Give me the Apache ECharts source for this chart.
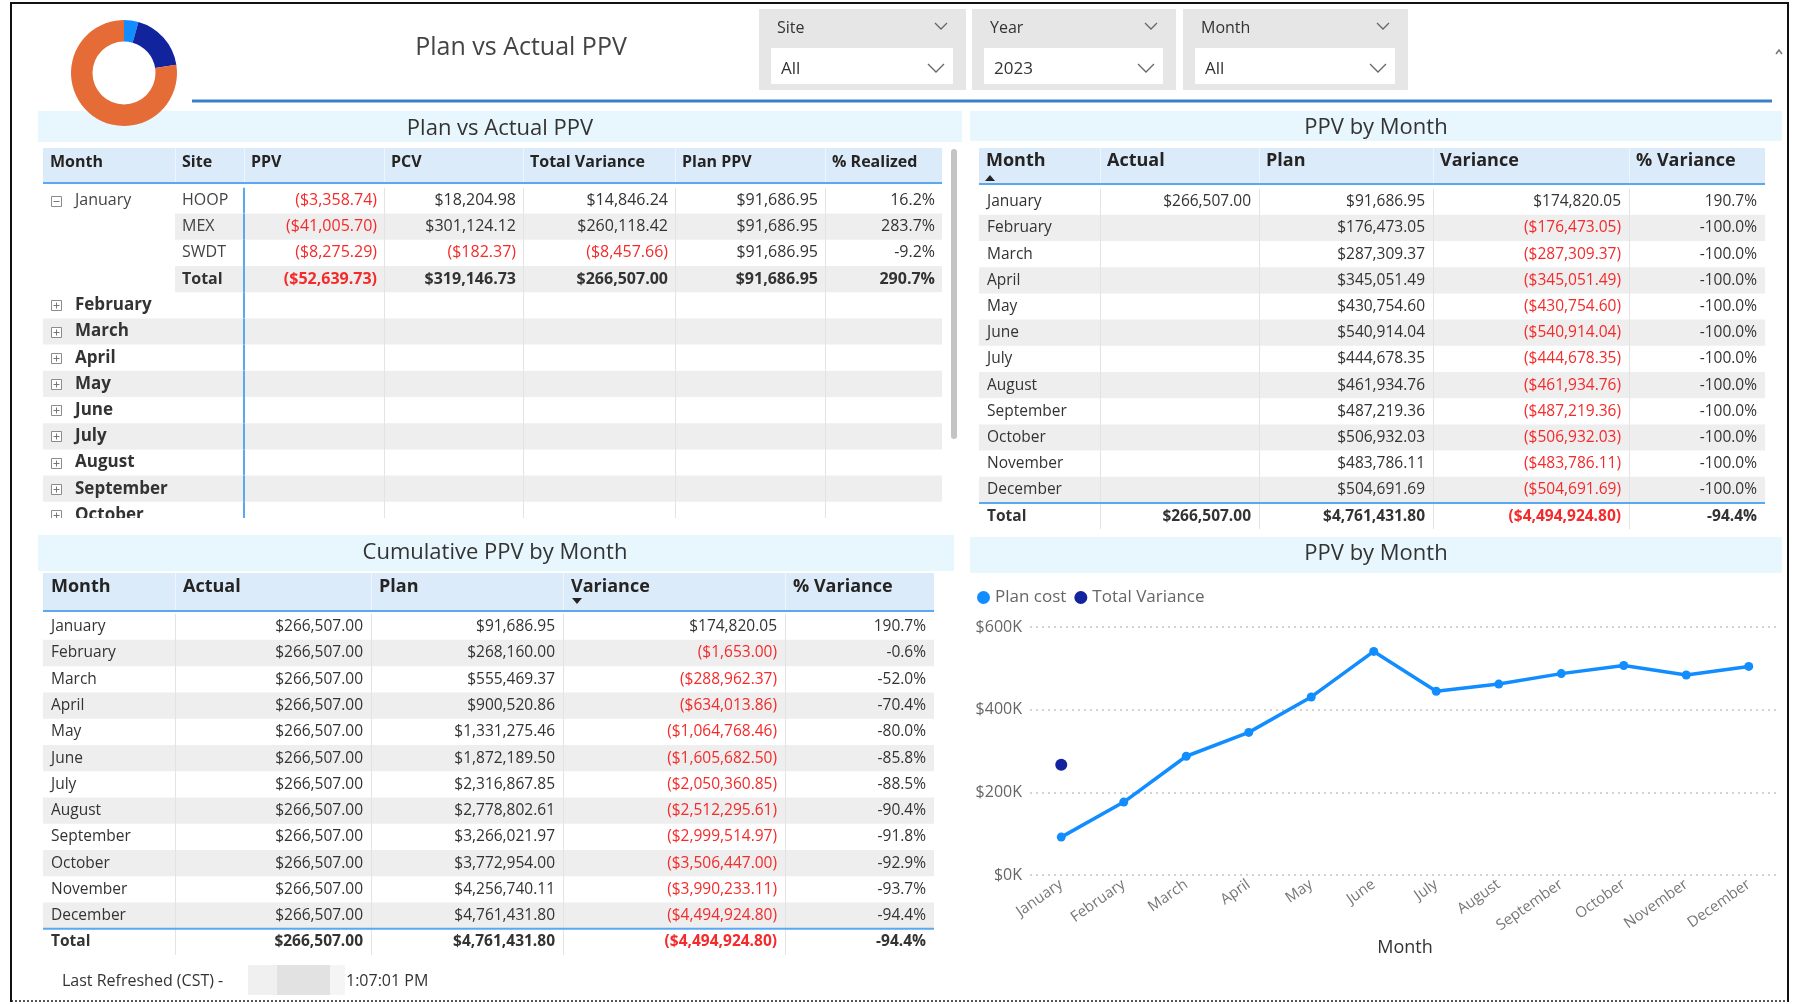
<!DOCTYPE html>
<html><head><meta charset="utf-8">
<script src="https://cdn.jsdelivr.net/npm/echarts@6/dist/echarts.min.js"></script>
<style>html,body{margin:0;padding:0;background:#fff}#main{width:1796px;height:1004px}</style>
</head><body><div id="main"></div>
<script>
// ================= DATA =================
const months = ['January','February','March','April','May','June','July','August','September','October','November','December'];

// Table 1: Plan vs Actual PPV (January expanded by site)
const t1Columns = ['Month','Site','PPV','PCV','Total Variance','Plan PPV','% Realized'];
const t1Sites = ['HOOP','MEX','SWDT'];
const t1PPV = [-3358.74,-41005.70,-8275.29];
const t1PCV = [18204.98,301124.12,-182.37];
const t1TotalVariance = [14846.24,260118.42,-8457.66];
const t1PlanPPV = [91686.95,91686.95,91686.95];
const t1Realized = [16.2,283.7,-9.2];
const t1JanTotals = [-52639.73,319146.73,266507.00,91686.95,290.7];

// Table 2: PPV by Month
const monthlyColumns = ['Month','Actual','Plan','Variance','% Variance'];
const monthlyActual = [266507.00,null,null,null,null,null,null,null,null,null,null,null];
const monthlyPlan = [91686.95,176473.05,287309.37,345051.49,430754.60,540914.04,444678.35,461934.76,487219.36,506932.03,483786.11,504691.69];
const monthlyVariance = [174820.05,-176473.05,-287309.37,-345051.49,-430754.60,-540914.04,-444678.35,-461934.76,-487219.36,-506932.03,-483786.11,-504691.69];
const monthlyPctVariance = [190.7,-100.0,-100.0,-100.0,-100.0,-100.0,-100.0,-100.0,-100.0,-100.0,-100.0,-100.0];
const monthlyTotals = [266507.00,4761431.80,-4494924.80,-94.4];

// Table 3: Cumulative PPV by Month
const cumColumns = ['Month','Actual','Plan','Variance','% Variance'];
const cumActual = [266507.00,266507.00,266507.00,266507.00,266507.00,266507.00,266507.00,266507.00,266507.00,266507.00,266507.00,266507.00];
const cumPlan = [91686.95,268160.00,555469.37,900520.86,1331275.46,1872189.50,2316867.85,2778802.61,3266021.97,3772954.00,4256740.11,4761431.80];
const cumVariance = [174820.05,-1653.00,-288962.37,-634013.86,-1064768.46,-1605682.50,-2050360.85,-2512295.61,-2999514.97,-3506447.00,-3990233.11,-4494924.80];
const cumPctVariance = [190.7,-0.6,-52.0,-70.4,-80.0,-85.8,-88.5,-90.4,-91.8,-92.9,-93.7,-94.4];
const cumTotals = [266507.00,4761431.80,-4494924.80,-94.4];

// Line chart: PPV by Month
const chartPlanCost = [91686.95,176473.05,287309.37,345051.49,430754.60,540914.04,444678.35,461934.76,487219.36,506932.03,483786.11,504691.69];
const chartTotalVariance = [266507.00,null,null,null,null,null,null,null,null,null,null,null];
const yTickValues = [0,200000,400000,600000];

// Donut (share of slices)
const donutValues = [4.4,18.1,77.5];

// Slicers
const slicerLabels = ['Site','Year','Month'];
const slicerValues = ['All','2023','All'];

// ================= STYLE / LAYOUT =================
const FONT = '"Open Sans", "Noto Sans", sans-serif';
const TEXT = '#333333', RED = '#F52A2A', SHADE = '#EEEEEE', GRIDC = '#E3E3E3';
const BLUE = '#5AA9F0', HEAD = '#DCEBFA', BAND = '#E8F7FD';

const L1 = {edges:[43,175,244,384,523,675,825,942], top:187.4, rowH:26.2, bottom:518, pad:7, fontSize:16, lineFrom:3, blueEdge:2};
const L2 = {edges:[979,1100,1259,1433,1629,1765], top:188.6, rowH:26.2, rows:13, pad:8, fontSize:15.5, lineFrom:1};
const L3 = {edges:[43,175,371,563,785,934], top:613.6, rowH:26.27, rows:13, pad:8, fontSize:15.5, lineFrom:1};

function fmtNum(a){ const s=a.toFixed(2); const p=s.split('.'); return p[0].replace(/\B(?=(\d{3})+(?!\d))/g, ',')+'.'+p[1]; }
function mon(v, bold){ if(v==null) return {t:''}; return {t: v<0 ? '($'+fmtNum(-v)+')' : '$'+fmtNum(v), c: v<0?RED:TEXT, a:'right', bold:!!bold}; }
function pc(v, bold){ return {t: v.toFixed(1)+'%', a:'right', bold:!!bold}; }

// ----- build table rows -----
const t1Rows = [];
t1Sites.forEach((s,k)=>{
  t1Rows.push({shadeFrom: k%2===1?1:null, cells:[
    k===0?{t:'January', icon:'minus', c:'#444'}:{t:''},
    {t:s, c:'#444'}, mon(t1PPV[k]), mon(t1PCV[k]), mon(t1TotalVariance[k]), mon(t1PlanPPV[k]), pc(t1Realized[k])]});
});
t1Rows.push({shadeFrom:1, cells:[{t:''},{t:'Total', bold:true}, mon(t1JanTotals[0],true), mon(t1JanTotals[1],true), mon(t1JanTotals[2],true), mon(t1JanTotals[3],true), pc(t1JanTotals[4],true)]});
months.slice(1).forEach((m,k)=>{
  t1Rows.push({shadeFrom: k%2===1?0:null, cells:[{t:m, bold:true, size:17, icon:'plus'}]});
});

function monthTable(actual, plan, variance, pct, totals){
  const rows = months.map((m,i)=>({shadeFrom: i%2===1?0:null, cells:[{t:m}, mon(actual[i]), mon(plan[i]), mon(variance[i]), pc(pct[i])]}));
  rows.push({shadeFrom:null, topLine:true, cells:[{t:'Total', bold:true}, mon(totals[0],true), mon(totals[1],true), mon(totals[2],true), pc(totals[3],true)]});
  return rows;
}
const t2Rows = monthTable(monthlyActual, monthlyPlan, monthlyVariance, monthlyPctVariance, monthlyTotals);
const t3Rows = monthTable(cumActual, cumPlan, cumVariance, cumPctVariance, cumTotals);

// ----- table renderer (positions via the grid's own axes) -----
function makeRender(L, rows){
  const E = L.edges, last = E.length-1;
  return function(params, api){
    const i = params.dataIndex, row = rows[i];
    const p = api.coord([0, i]); const h = api.size([0,1])[1];
    const top = p[1]-h/2, cy = p[1];
    const X = e => api.coord([e - E[0], i])[0];
    const ch = [];
    if (row.shadeFrom != null) ch.push({type:'rect', shape:{x:X(E[row.shadeFrom]), y:top, width:X(E[last])-X(E[row.shadeFrom]), height:h}, style:{fill:SHADE}});
    for (let k=L.lineFrom; k<last; k++){ const x=Math.round(X(E[k]))+0.5; ch.push({type:'line', shape:{x1:x,y1:top,x2:x,y2:top+h}, style:{stroke:GRIDC, lineWidth:1}}); }
    if (L.blueEdge!=null){ const x=X(E[L.blueEdge]); ch.push({type:'line', shape:{x1:x,y1:top,x2:x,y2:top+h}, style:{stroke:BLUE, lineWidth:2}}); }
    if (row.topLine) ch.push({type:'line', shape:{x1:X(E[0]), y1:top, x2:X(E[last]), y2:top}, style:{stroke:BLUE, lineWidth:2}});
    row.cells.forEach((c,k)=>{
      if (!c) return;
      let x, align = c.a || 'left';
      if (c.icon){
        const ix = Math.round(X(E[k]) + 13)+0.5, iy = Math.round(cy)+0.5;
        ch.push({type:'rect', shape:{x:ix-5, y:iy-5, width:10, height:10}, style:{stroke:'#8C8C8C', fill:'#fff', lineWidth:1}});
        ch.push({type:'line', shape:{x1:ix-3, y1:iy, x2:ix+3, y2:iy}, style:{stroke:'#777', lineWidth:1}});
        if (c.icon==='plus') ch.push({type:'line', shape:{x1:ix, y1:iy-3, x2:ix, y2:iy+3}, style:{stroke:'#777', lineWidth:1}});
        x = X(E[k]) + 32;
      } else {
        x = align==='right' ? X(E[k+1]) - L.pad : X(E[k]) + L.pad;
      }
      if (!c.t) return;
      ch.push({type:'text', style:{text:c.t, x:x, y:cy, fill:c.c||TEXT, fontSize:c.size||L.fontSize, fontWeight:c.bold?'bold':'normal', fontFamily:FONT, align:align, verticalAlign:'middle'}});
    });
    return {type:'group', children:ch};
  };
}

const grids = [], xAxes = [], yAxes = [], series = [];
function addTable(L, rows){
  const gi = grids.length;
  const width = L.edges[L.edges.length-1]-L.edges[0];
  const height = L.bottom ? (L.bottom - L.top) : L.rows*L.rowH;
  grids.push({left:L.edges[0], top:L.top, width:width, height:height, containLabel:false});
  xAxes.push({type:'value', gridIndex:gi, min:0, max:width, show:false});
  yAxes.push({type:'value', gridIndex:gi, inverse:true, min:-0.5, max:-0.5+height/L.rowH, show:false});
  series.push({type:'custom', xAxisIndex:gi, yAxisIndex:gi, clip:true, silent:true, animation:false,
    data: rows.map((r,i)=>[0,i]), encode:{x:0,y:1}, renderItem: makeRender(L, rows)});
}
addTable(L1, t1Rows);
addTable(L2, t2Rows);
addTable(L3, t3Rows);

// ----- line chart grid -----
const cg = grids.length;
grids.push({left:1030, top:627, width:750, height:248, containLabel:false});
xAxes.push({type:'category', gridIndex:cg, data:months, boundaryGap:true,
  axisLine:{show:false}, axisTick:{show:false},
  axisLabel:{rotate:35, color:'#777', fontSize:15, margin:8, fontFamily:FONT, interval:0},
  name:'Month', nameLocation:'middle', nameGap:64, nameTextStyle:{fontSize:18, color:'#333', fontFamily:FONT}});
yAxes.push({type:'value', gridIndex:cg, min:yTickValues[0], max:yTickValues[yTickValues.length-1], interval:yTickValues[1]-yTickValues[0],
  axisLine:{show:false}, axisTick:{show:false},
  axisLabel:{color:'#666', fontSize:16, margin:8, fontFamily:FONT, formatter:v=>'$'+(v/1000)+'K'},
  splitLine:{lineStyle:{type:[2,4], color:'#C4C4C4', width:1.5}}});
series.push({name:'Plan cost', type:'line', xAxisIndex:cg, yAxisIndex:cg, data:chartPlanCost,
  symbol:'circle', symbolSize:9, showSymbol:true, lineStyle:{width:3.5, color:'#118DFF'}, itemStyle:{color:'#118DFF', opacity:1}, animation:false});
series.push({name:'Total Variance', type:'scatter', xAxisIndex:cg, yAxisIndex:cg, data:chartTotalVariance,
  symbol:'circle', symbolSize:12, itemStyle:{color:'#12239E', opacity:1}, animation:false});

// ----- donut -----
series.push({type:'pie', center:[124,73], radius:[31.5,53], startAngle:90, clockwise:true, silent:true,
  label:{show:false}, labelLine:{show:false}, animation:false,
  data: donutValues.map((v,i)=>({value:v, itemStyle:{color:['#118DFF','#12239E','#E66C37'][i]}}))});

// ================= DECORATION (graphic) =================
const G = [];
function txt(t,x,y,o){ G.push({type:'text', z:10, style:Object.assign({text:t, x:x, y:y, fill:TEXT, fontSize:16, fontFamily:FONT, align:'left', verticalAlign:'middle'}, o||{})}); }
function rect(x,y,w,h,fill,o){ G.push({type:'rect', z:1, shape:Object.assign({x:x,y:y,width:w,height:h}, (o&&o.r)?{r:o.r}:{}), style:{fill:fill}}); }
function line(x1,y1,x2,y2,stroke,w,dash){ G.push({type:'line', z:5, shape:{x1:x1,y1:y1,x2:x2,y2:y2}, style:{stroke:stroke, lineWidth:w, lineDash:dash||null}}); }
function chevron(x,y,w,h){ G.push({type:'polyline', z:6, shape:{points:[[x-w/2,y-h/2],[x,y+h/2],[x+w/2,y-h/2]]}, style:{stroke:'#666', lineWidth:1.3, fill:null}}); }

// frame
G.push({type:'polyline', z:20, shape:{points:[[11,1002],[11,3],[1788,3],[1788,1002]]}, style:{stroke:'#111', lineWidth:2, fill:null}});
line(11,1001,1788,1001,'#555',2,[2,2]);

// main title
txt('Plan vs Actual PPV', 521, 48, {fontSize:25, align:'center', fill:'#444'});

// slicers
const slicerBoxes = [[759,966],[972,1176],[1183,1408]];
slicerBoxes.forEach((b,i)=>{
  rect(b[0], 9, b[1]-b[0], 81, '#E6E6E6');
  rect(b[0]+12, 48, b[1]-b[0]-25, 36, '#FFFFFF');
  txt(slicerLabels[i], b[0]+18, 28, {fontSize:16, fill:'#333'});
  chevron(b[1]-25, 26, 12, 6);
  txt(slicerValues[i], b[0]+22, 69, {fontSize:17, fill:'#333'});
  chevron(b[1]-30, 68, 16, 8);
});
G.push({type:'polyline', z:6, shape:{points:[[1776,54],[1779,50],[1782,54]]}, style:{stroke:'#777', lineWidth:1.5, fill:null}});

// blue rule
line(192,101,1772,101,'#3A80C8',3);

// panel title bands
rect(38,111,924,31,BAND); txt('Plan vs Actual PPV', 500, 129, {fontSize:22, align:'center'});
rect(970,111,812,30,BAND); txt('PPV by Month', 1376, 128, {fontSize:22, align:'center'});
rect(38,535,916,36,BAND); txt('Cumulative PPV by Month', 495, 553, {fontSize:22, align:'center'});
rect(970,537,812,36,BAND); txt('PPV by Month', 1376, 554, {fontSize:22, align:'center'});

// table headers
function header(E, cols, y0, y1, ty, fs, pads){
  rect(E[0], y0, E[E.length-1]-E[0], y1-y0, HEAD);
  for (let k=1;k<E.length-1;k++) line(E[k]+0.5, y0, E[k]+0.5, y1, '#EEF5FD', 1);
  line(E[0], y1+1, E[E.length-1], y1+1, BLUE, 2);
  cols.forEach((c,k)=>txt(c, E[k]+pads, ty, {fontSize:fs, fontWeight:'bold', fill:'#252423'}));
}
header(L1.edges, t1Columns, 148, 182, 162, 16, 7);
header(L2.edges, monthlyColumns, 148, 183, 161, 18, 7);
header(L3.edges, cumColumns, 573, 610, 587, 18, 8);
// sort arrows
G.push({type:'polygon', z:10, shape:{points:[[985,181],[995,181],[990,175]]}, style:{fill:'#252423'}});
G.push({type:'polygon', z:10, shape:{points:[[572,598],[582,598],[577,604]]}, style:{fill:'#252423'}});

// scrollbar of table 1
rect(951,149,6,290,'#C4C4C4',{r:3});

// footer
txt('Last Refreshed (CST) -', 62, 981, {fontSize:16, fill:'#333'});
rect(248,965,29,30,'#F0F0F0'); rect(277,965,53,30,'#E2E2E2'); rect(330,965,15,30,'#F5F5F5');
txt('1:07:01 PM', 346, 981, {fontSize:16, fill:'#333'});

// ================= CHART =================
const chart = echarts.init(document.getElementById('main'), null, {renderer:'canvas', width:1796, height:1004});
chart.setOption({
  animation:false,
  backgroundColor:'#ffffff',
  textStyle:{fontFamily:FONT},
  grid:grids, xAxis:xAxes, yAxis:yAxes,
  legend:{data:['Plan cost','Total Variance'], left:977, top:589, icon:'circle', itemWidth:13, itemHeight:13, itemGap:8, padding:0,
    textStyle:{fontSize:17, color:'#666', fontFamily:FONT}},
  graphic:G,
  series:series
});
</script></body></html>
